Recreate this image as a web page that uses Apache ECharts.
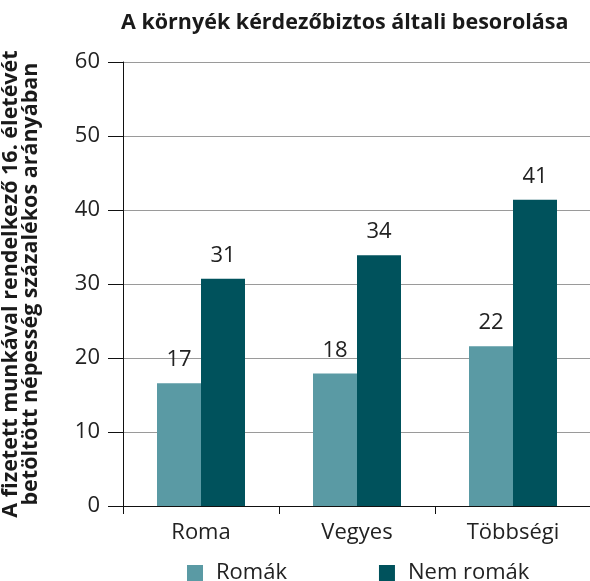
<!DOCTYPE html>
<html><head><meta charset="utf-8">
<script src="https://cdn.jsdelivr.net/npm/echarts@6/dist/echarts.min.js"></script>
<style>html,body{margin:0;padding:0;background:#fff}#c{width:590px;height:581px}</style>
</head><body><div id="c"></div>
<script>
var categories = ['Roma', 'Vegyes', 'Többségi'];
var romak = [16.6, 17.9, 21.6];
var nemRomak = [30.7, 33.9, 41.4];
var seriesNames = ['Romák', 'Nem romák'];
var yTicks = [0, 10, 20, 30, 40, 50, 60];
var titleText = 'A környék kérdezőbiztos általi besorolása';
var yName = 'A fizetett munkával rendelkező 16. életévét\nbetöltött népesség százalékos arányában';

var FONT = 'Open Sans';
var chart = echarts.init(document.getElementById('c'), null, {renderer: 'canvas'});
var labelCfg = {
  show: true, position: 'top', distance: 12,
  fontFamily: FONT, fontSize: 22, color: '#222',
  formatter: function (p) { return Math.round(p.value); }
};
chart.setOption({
  animation: false,
  textStyle: {fontFamily: FONT},
  title: {
    text: titleText, left: 116, top: 7,
    textStyle: {fontFamily: FONT, fontWeight: 'bold', fontSize: 21.5, color: '#1a1a1a'}
  },
  legend: {
    data: seriesNames, bottom: -8, left: 182,
    itemWidth: 16, itemHeight: 16, itemGap: 92, icon: 'rect',
    textStyle: {fontFamily: FONT, fontSize: 22, color: '#222', padding: [0, 0, 0, 8]}
  },
  grid: {left: 123, right: -1, top: 62, bottom: 75, containLabel: false, outerBoundsMode: 'none'},
  xAxis: {
    type: 'category', data: categories,
    axisLine: {lineStyle: {color: '#111', width: 1}},
    axisTick: {show: true, length: 8, lineStyle: {color: '#111'}, alignWithLabel: false},
    axisLabel: {fontFamily: FONT, fontSize: 22, color: '#222', margin: 16}
  },
  yAxis: {
    type: 'value', min: yTicks[0], max: yTicks[yTicks.length - 1], interval: 10,
    name: yName, nameLocation: 'middle', nameGap: 82, nameRotate: 90,
    nameTextStyle: {fontFamily: FONT, fontWeight: 'bold', fontSize: 21.5, color: '#1a1a1a', lineHeight: 20, align: 'center'},
    axisLine: {show: true, lineStyle: {color: '#111', width: 1}},
    axisTick: {show: true, length: 15, lineStyle: {color: '#111'}},
    axisLabel: {fontFamily: FONT, fontSize: 22, color: '#222', margin: 23},
    splitLine: {show: true, lineStyle: {color: '#9a9a9a', width: 1}}
  },
  series: [
    {name: seriesNames[0], type: 'bar', data: romak, barWidth: 44, barGap: '0%',
     itemStyle: {color: '#5a9aa4'}, label: labelCfg},
    {name: seriesNames[1], type: 'bar', data: nemRomak, barWidth: 44, barGap: '0%',
     itemStyle: {color: '#00525c'}, label: labelCfg}
  ]
});
</script></body></html>
